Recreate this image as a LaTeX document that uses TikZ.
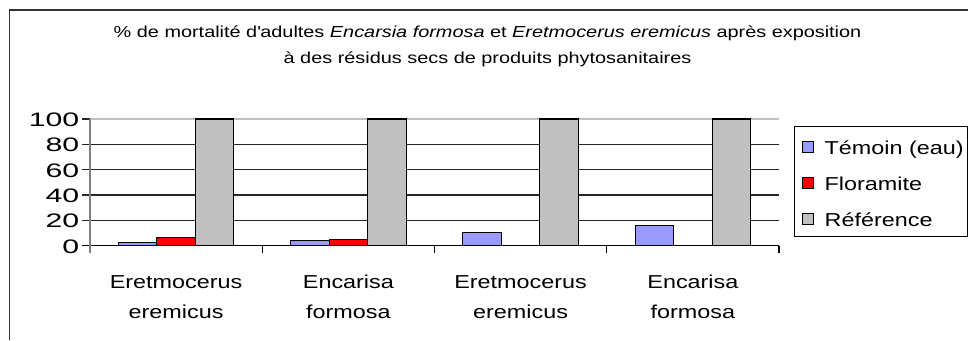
\documentclass[tikz,border=0pt]{standalone}
\usepackage{fontspec}
\setmainfont{Liberation Sans}[FakeStretch=1.25]
\newfontfamily\yfont{Liberation Sans}[FakeStretch=1.55]
\definecolor{cblue}{HTML}{9999FF}
\definecolor{cred}{HTML}{FF0000}
\definecolor{cgray}{HTML}{C0C0C0}
\definecolor{cframe}{HTML}{333333}
\definecolor{caxis}{HTML}{808080}
\newcommand\mybar[4]{%
  \pgfmathsetmacro\xa{90+172.25*#1+28.35+38.5*#2}%
  \pgfmathsetmacro\xb{\xa+38.5}%
  \pgfmathsetmacro\yt{245.7-1.267*#3}%
  \draw[barbox,fill=#4] (\xa,245.7) rectangle (\xb,\yt);}
\begin{document}
\begin{tikzpicture}[x=1pt,y=-1pt,
  barbox/.style={draw=black,line width=1.2pt},
  gridline/.style={line width=1.2pt,draw=black!85},
  ylab/.style={anchor=base east,inner sep=0pt,font=\yfont\fontsize{19.5}{20}\selectfont},
  catlab/.style={anchor=base,inner sep=0pt,font=\fontsize{18.7}{20}\selectfont},
  leglab/.style={anchor=base west,inner sep=0pt,font=\fontsize{18.7}{20}\selectfont},
  titlab/.style={anchor=base,inner sep=0pt,font=\fontsize{15.9}{20}\selectfont},
  legmark/.style={draw=black,line width=1pt,minimum size=11pt,inner sep=0pt}
]
\useasboundingbox (0,0) rectangle (968,340);
% outer frame
\draw[cframe,line width=1.5pt] (9.5,340) -- (9.5,10) -- (968,10);
% title
\node[titlab] (t1) at (487.5,37.5) {\% de mortalité d\textquotesingle adultes \textit{Encarsia formosa} et \textit{Eretmocerus eremicus} après exposition};
\node[titlab] (t2) at (487.5,63) {à des résidus secs de produits phytosanitaires};
% gridlines
\foreach \v in {20,40,60,80}{
  \draw[gridline] (82,{245.7-1.267*\v}) -- (779,{245.7-1.267*\v});
}
\draw[cgray,line width=1.2pt] (90,119) -- (779,119);
\draw[gridline] (82,119) -- (90,119);
% bars
\mybar{0}{0}{2.5}{cblue}
\mybar{0}{1}{6.3}{cred}
\mybar{0}{2}{100}{cgray}
\mybar{1}{0}{3.9}{cblue}
\mybar{1}{1}{5}{cred}
\mybar{1}{2}{100}{cgray}
\mybar{2}{0}{10.3}{cblue}
\mybar{2}{2}{100}{cgray}
\mybar{3}{0}{15.8}{cblue}
\mybar{3}{2}{100}{cgray}
% axes
\draw[black,line width=1.3pt] (82,245.7) -- (779,245.7);
\foreach \x in {262.25,434.5,606.75,779}{
  \draw[black,line width=1.2pt] (\x,245.7) -- (\x,253.3);
}
\draw[caxis,line width=1.6pt] (90,119) -- (90,253.3);
% y labels
\foreach \v/\n in {0/y0,20/y20,40/y40,60/y60,80/y80,100/y100}{
  \node[ylab] (\n) at (79.5,{245.7-1.267*\v+7.5}) {\v};
}
% category labels
\node[catlab] (c1a) at (176.1,288.3) {Eretmocerus};
\node[catlab] (c1b) at (176.1,318.3) {eremicus};
\node[catlab] (c2a) at (348.4,288.3) {Encarisa};
\node[catlab] (c2b) at (348.4,318.3) {formosa};
\node[catlab] (c3a) at (520.6,288.3) {Eretmocerus};
\node[catlab] (c3b) at (520.6,318.3) {eremicus};
\node[catlab] (c4a) at (692.9,288.3) {Encarisa};
\node[catlab] (c4b) at (692.9,318.3) {formosa};
% legend
\draw[black,line width=1pt] (794.3,126.7) rectangle (967.5,236);
\node[legmark,fill=cblue] (m1) at (808,147) {};
\node[legmark,fill=cred] (m2) at (808,183) {};
\node[legmark,fill=cgray] (m3) at (808,219) {};
\node[leglab] (l1) at (824.5,154.5) {Témoin (eau)};
\node[leglab] (l2) at (824.5,190.5) {Floramite};
\node[leglab] (l3) at (824.5,226.5) {Référence};
\end{tikzpicture}
\end{document}
